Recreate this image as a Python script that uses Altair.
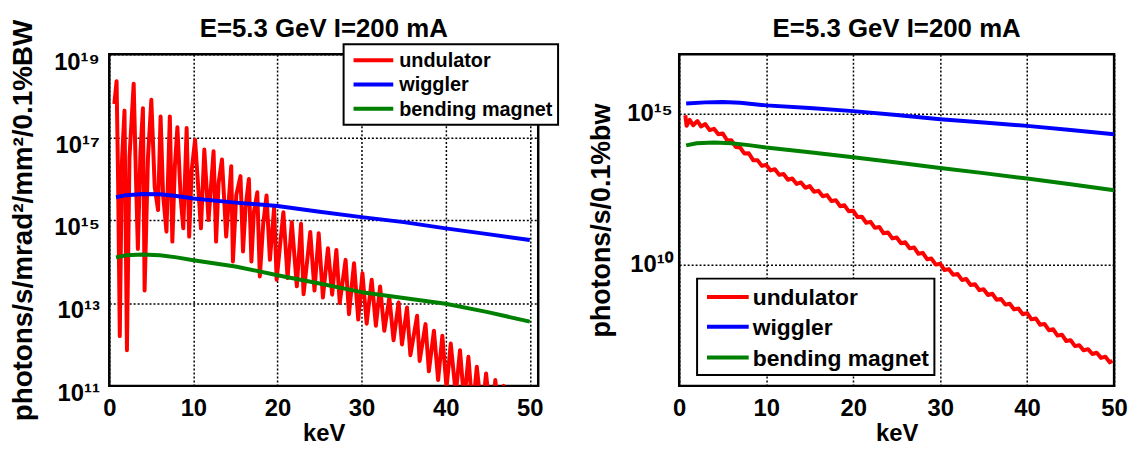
import altair as alt
import pandas as pd

FONT = "Liberation Sans"

series_names = ["undulator", "wiggler", "bending magnet"]
series_colors = ["#ff0000", "#0000ff", "#008000"]

# ---------------- left panel (brightness) : x in keV, values as log10 ----------------
und_L_x = [0.6, 0.87, 1.05, 1.25, 1.5, 1.81, 2.1, 2.4, 2.9, 3.2, 3.4, 3.7, 4.0, 4.2, 4.6,
           5.0, 5.4, 5.8, 6.1, 6.4, 6.8, 7.2, 7.5, 7.8, 8.1, 8.5, 8.8, 9.2, 9.5, 9.8,
           10.2, 10.9, 11.3, 11.8, 12.4, 12.7, 13.0, 13.4, 13.9, 14.5, 14.7, 15.1, 15.6,
           15.9, 16.2, 16.6, 16.9, 17.2, 17.6, 17.9, 18.3, 18.7, 19.1, 19.6, 19.9, 20.7,
           21.2, 21.7, 22.3, 22.8, 23.1, 23.9, 24.4, 24.9, 25.4, 26.0, 26.5, 27.0, 27.4,
           28.1, 28.5, 29.1, 29.6, 30.1, 30.6, 31.2, 31.7, 32.2, 32.7, 33.3, 33.8, 34.4,
           34.8, 35.4, 35.8, 36.6, 36.9, 37.6, 38.0, 38.6, 39.1, 39.6, 40.1, 40.6, 41.2,
           41.7, 42.2, 42.7, 43.2, 43.7, 44.3, 44.8, 45.4, 45.9, 46.4, 46.9, 47.4, 47.9,
           48.4, 48.9, 49.4, 50.0]
und_L_logy = [17.8, 18.35, 15.9, 12.2, 16.4, 17.64, 11.86, 16.5, 18.29, 15.8, 14.3, 16.6,
              17.70, 13.3, 16.5, 17.90, 15.8, 15.24, 17.5, 15.6, 14.72, 17.5, 14.48, 16.3,
              17.24, 15.5, 14.8, 17.22, 14.6, 16.2, 16.94, 14.8, 16.70, 15.0, 16.66, 14.48,
              15.9, 16.46, 14.6, 16.30, 14.0, 15.6, 16.06, 14.24, 15.3, 15.99, 14.0, 15.2,
              15.67, 13.64, 14.9, 15.59, 14.04, 15.3, 13.56, 15.19, 13.6, 14.95, 13.4, 14.91,
              13.21, 14.71, 13.3, 14.68, 13.13, 14.32, 13.2, 14.28, 13.0, 14.04, 12.73, 13.96,
              12.6, 13.72, 12.5, 13.56, 12.45, 13.40, 12.33, 13.13, 12.1, 13.01, 12.0, 12.89,
              11.74, 12.69, 11.6, 12.49, 11.35, 12.33, 11.14, 12.21, 10.95, 12.02, 10.8, 11.86,
              10.6, 11.70, 10.4, 11.46, 10.3, 11.30, 10.1, 11.14, 10.0, 11.0, 9.9, 10.85, 9.8,
              10.7, 9.7, 10.5]

wig_L_x = [0.8, 2, 4, 6, 8, 10, 15, 20, 25, 30, 35, 40, 45, 50]
wig_L_logy = [15.55, 15.6, 15.63, 15.62, 15.58, 15.52, 15.42, 15.34, 15.2, 15.07, 14.95,
              14.8, 14.66, 14.52]

bm_L_x = [0.8, 2, 4, 6, 8, 10, 15, 20, 25, 30, 35, 40, 45, 50]
bm_L_logy = [14.1, 14.15, 14.17, 14.15, 14.1, 14.03, 13.88, 13.67, 13.47, 13.26, 13.12,
             12.98, 12.78, 12.55]

# ---------------- right panel (flux) ----------------
und_R_x = [0.7, 0.85, 1.2, 1.6, 2.1, 2.5, 3.0, 3.5, 4.0, 4.5, 5.0, 5.5, 6.0, 6.5, 7.0, 7.5,
           8.0, 8.5, 9.0, 9.5, 10.0, 10.5, 11.0, 11.5, 12.0, 12.5, 13.0, 13.5, 14.0, 14.5,
           15.0, 15.5, 16.0, 16.5, 17.0, 17.5, 18.0, 18.5, 19.0, 19.5, 20.0, 20.5, 21.0,
           21.5, 22.0, 22.5, 23.0, 23.5, 24.0, 24.5, 25.0, 25.5, 26.0, 26.5, 27.0, 27.5,
           28.0, 28.5, 29.0, 29.5, 30.0, 30.5, 31.0, 31.5, 32.0, 32.5, 33.0, 33.5, 34.0,
           34.5, 35.0, 35.5, 36.0, 36.5, 37.0, 37.5, 38.0, 38.5, 39.0, 39.5, 40.0, 40.5,
           41.0, 41.5, 42.0, 42.5, 43.0, 43.5, 44.0, 44.5, 45.0, 45.5, 46.0, 46.5, 47.0,
           47.5, 48.0, 48.5, 49.0, 49.5, 49.8]
und_R_logy = [14.95, 14.60, 14.80, 14.62, 14.76, 14.58, 14.66, 14.46, 14.50, 14.32, 14.35,
              14.12, 14.12, 13.90, 13.88, 13.68, 13.69, 13.46, 13.46, 13.27, 13.30, 13.12,
              13.16, 12.97, 13.00, 12.81, 12.85, 12.67, 12.72, 12.54, 12.60, 12.41, 12.44,
              12.26, 12.30, 12.10, 12.13, 11.93, 11.96, 11.76, 11.78, 11.57, 11.58, 11.38,
              11.41, 11.21, 11.24, 11.03, 11.06, 10.86, 10.89, 10.70, 10.73, 10.53, 10.56,
              10.35, 10.38, 10.17, 10.19, 9.99, 10.02, 9.81, 9.84, 9.65, 9.68, 9.48, 9.51,
              9.31, 9.34, 9.14, 9.17, 8.98, 9.02, 8.82, 8.85, 8.66, 8.69, 8.50, 8.53, 8.34,
              8.38, 8.17, 8.20, 7.99, 8.02, 7.81, 7.84, 7.63, 7.66, 7.45, 7.48, 7.28, 7.31,
              7.14, 7.18, 7.02, 7.06, 6.89, 6.93, 6.74, 6.80]

wig_R_x = [0.8, 3, 5, 7, 10, 15, 20, 25, 30, 35, 40, 45, 50]
wig_R_logy = [15.34, 15.38, 15.39, 15.37, 15.28, 15.19, 15.09, 14.96, 14.82, 14.71, 14.60,
              14.46, 14.32]

bm_R_x = [0.8, 2, 4, 6, 8, 10, 15, 20, 25, 30, 35, 40, 45, 50]
bm_R_logy = [13.95, 14.02, 14.05, 14.02, 13.96, 13.88, 13.72, 13.56, 13.38, 13.20, 13.03,
             12.85, 12.66, 12.46]

title_text = "E=5.3 GeV I=200 mA"
x_ticks = [0, 10, 20, 30, 40, 50]
yL_ticks = [1e11, 1e13, 1e15, 1e17, 1e19]
yR_ticks = [1e10, 1e15]

SUP = "⁰¹²³⁴⁵⁶⁷⁸⁹"
label_expr = ("'10' + substring('" + SUP + "', floor(round(log(datum.value)/LN10)/10), "
              "floor(round(log(datum.value)/LN10)/10)+1) + substring('" + SUP + "', "
              "round(log(datum.value)/LN10)%10, round(log(datum.value)/LN10)%10+1)")


def frame(xs, logys):
    return pd.DataFrame({"x": xs, "y": [10 ** v for v in logys]})


def panel(data, xdom, ydom, yticks, ytitle, w, h, lab_pad, tit_pad, ytitle_size,
          lab_off, title_off, leg, leg_font):
    xs = alt.X("x:Q", scale=alt.Scale(domain=xdom, nice=False, zero=False),
               axis=alt.Axis(values=x_ticks, title="keV", labelPadding=11, titlePadding=1,
                             format="d"))
    ys = alt.Y("y:Q", scale=alt.Scale(type="log", domain=ydom, nice=False),
               axis=alt.Axis(values=yticks, title=ytitle, labelExpr=label_expr,
                             labelPadding=lab_pad, titlePadding=tit_pad,
                             titleFontSize=ytitle_size, labelOffset=lab_off))
    layers = []
    for (xv, yv), col in zip(data, series_colors):
        layers.append(alt.Chart(frame(xv, yv)).mark_line(
            color=col, strokeWidth=4, clip=True, strokeJoin="round").encode(x=xs, y=ys))
    one = pd.DataFrame({"k": [0]})
    bx0, bx1, by0, by1, lx0, lx1, tx, rows = leg
    layers.append(alt.Chart(one).mark_rect(fill="white", stroke="black", strokeWidth=2).encode(
        x=alt.value(bx0), x2=alt.value(bx1), y=alt.value(by0), y2=alt.value(by1)))
    for name, col, ry in zip(series_names, series_colors, rows):
        layers.append(alt.Chart(one).mark_rule(color=col, strokeWidth=4).encode(
            x=alt.value(lx0), x2=alt.value(lx1), y=alt.value(ry)))
        layers.append(alt.Chart(one).mark_text(
            text=name, align="left", baseline="middle", font=FONT, fontWeight="bold",
            fontSize=leg_font, color="black").encode(x=alt.value(tx), y=alt.value(ry + 1)))
    return alt.layer(*layers).properties(
        width=w, height=h,
        title=alt.TitleParams(title_text, fontSize=26, font=FONT, fontWeight="bold",
                              offset=title_off, anchor="middle", color="black",
                              frame="group"))


left = panel([(und_L_x, und_L_logy), (wig_L_x, wig_L_logy), (bm_L_x, bm_L_logy)],
             [0, 51], [1e11, 1e19], yL_ticks, "photons/s/mrad²/mm²/0.1%BW",
             432, 334, 10, 16, 28, 8, -23,
             (236, 452, -10, 71, 246, 286, 292, [6, 30.5, 55]), 20)
right = panel([(und_R_x, und_R_logy), (wig_R_x, wig_R_logy), (bm_R_x, bm_R_logy)],
              [0, 50], [10 ** 5.96, 10 ** 16.98], yR_ticks, "photons/s/0.1%bw",
              438, 334, 7, 11, 27, 0, 12,
              (18, 257, 226, 323, 28, 70, 74, [244.5, 274.5, 305.5]), 23)

chart = alt.hconcat(left, right, spacing=25).properties(
    padding={"left": 0, "top": 5, "right": 0, "bottom": -3}
).configure_axis(
    labelFont=FONT, labelFontWeight="bold", labelFontSize=24, labelColor="black",
    titleFont=FONT, titleFontWeight="bold", titleFontSize=24, titleColor="black",
    grid=True, gridColor="black", gridDash=[2, 2], gridOpacity=1, gridWidth=1.5,
    domain=False, ticks=False, tickSize=0, labelOverlap=False, labelFlush=False
).configure_view(stroke="black", strokeWidth=2.5)

chart.save("out.html", embed_options={"renderer": "svg", "actions": False})
